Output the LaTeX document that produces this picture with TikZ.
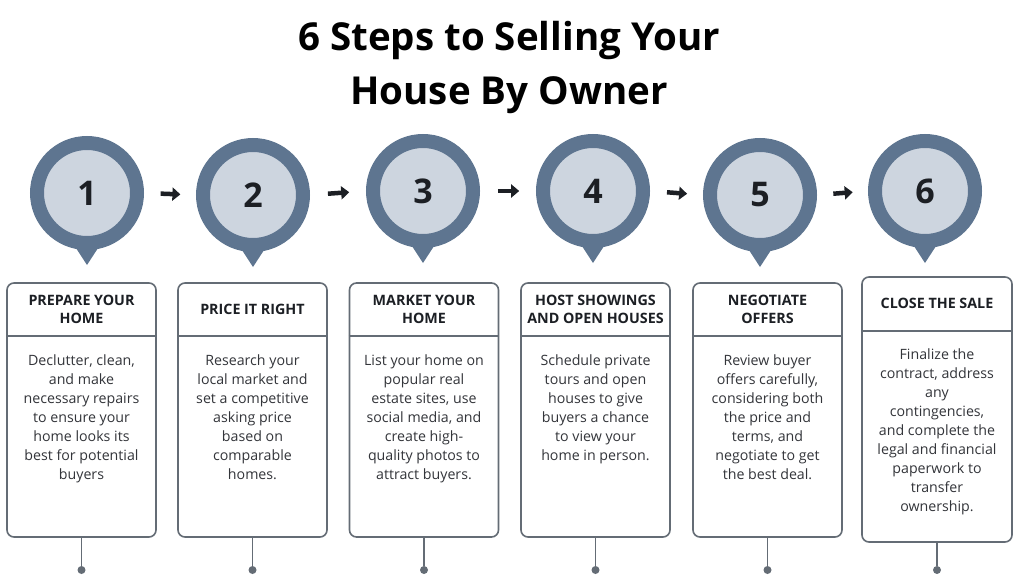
\documentclass[tikz,border=0pt]{standalone}
\usepackage{fontspec}
\setmainfont{Open Sans}
\usepackage{tikz}
\usetikzlibrary{positioning,arrows.meta,calc}
\usepackage{xcolor}
\definecolor{slate}{HTML}{5E7590}
\definecolor{mist}{HTML}{CDD5DF}
\definecolor{frame}{HTML}{646C75}
\definecolor{ink}{HTML}{1C1F24}

\begin{document}
\begin{tikzpicture}[x=1pt, y=-1pt,
    stepCircle/.style={circle, draw=slate, fill=mist, line width=14pt, minimum size=100pt, inner sep=0pt, font=\fontsize{34}{34}\selectfont\bfseries, text=ink},
    stepBox/.style={rectangle, rounded corners=7pt, draw=frame, line width=1.6pt, fill=white, minimum width=149pt, minimum height=254pt},
    headText/.style={align=center, inner sep=0pt, font=\fontsize{14.3}{18}\selectfont\bfseries, text=ink},
    bodyText/.style={align=center, inner sep=0pt, anchor=north, font=\fontsize{14.2}{19}\selectfont, text=ink!90},
    stemDot/.style={circle, fill=frame, inner sep=0pt, minimum size=8pt},
    arrowStep/.style={-{Triangle[length=8pt,width=13pt]}, line width=4.5pt, draw=ink}
]
    \useasboundingbox (0,0) rectangle (1018,583);

    % Titolo
    \node[align=center, font=\fontsize{38.5}{54}\selectfont\bfseries, text=black] (title) at (509,67) {6 Steps to Selling Your\\House By Owner};

    % Cerchi numerati
    \node[stepCircle] (c1) at (87,193) {1};
    \node[stepCircle] (c2) at (253,195) {2};
    \node[stepCircle] (c3) at (423,191) {3};
    \node[stepCircle] (c4) at (593,191) {4};
    \node[stepCircle] (c5) at (760,195) {5};
    \node[stepCircle] (c6) at (925,191) {6};

    \foreach \c in {c1,c2,c3,c4,c5,c6}
        \fill[slate] ([shift={(-13pt,5pt)}]\c.south) -- ([yshift=-15pt]\c.south) -- ([shift={(13pt,5pt)}]\c.south) -- cycle;

    \draw[arrowStep] ($(c1.east)!0.32!(c2.west)$) -- ($(c1.east)!0.7!(c2.west)$);
    \draw[arrowStep] ($(c2.east)!0.32!(c3.west)$) -- ($(c2.east)!0.7!(c3.west)$);
    \draw[arrowStep] ($(c3.east)!0.32!(c4.west)$) -- ($(c3.east)!0.7!(c4.west)$);
    \draw[arrowStep] ($(c4.east)!0.32!(c5.west)$) -- ($(c4.east)!0.7!(c5.west)$);
    \draw[arrowStep] ($(c5.east)!0.32!(c6.west)$) -- ($(c5.east)!0.7!(c6.west)$);

    % Riquadri
    \node[stepBox] (box1) at (81.5,410) {};
    \node[stepBox] (box2) at (252.5,410) {};
    \node[stepBox] (box3) at (424,410) {};
    \node[stepBox] (box4) at (595.5,410) {};
    \node[stepBox] (box5) at (767.5,410) {};
    \node[stepBox, minimum width=150pt, minimum height=265pt] (box6) at (937,409.5) {};

    \foreach \b in {box1,box2,box3,box4,box5}
        \draw[frame, line width=1.6pt] ([yshift=-54pt]\b.north west) -- ([yshift=-54pt]\b.north east);
    \draw[frame, line width=1.6pt] ([yshift=-55pt]box6.north west) -- ([yshift=-55pt]box6.north east);

    \node[headText] (head1) at ([yshift=-27pt]box1.north) {PREPARE YOUR\\HOME};
    \node[headText] (head2) at ([yshift=-27pt]box2.north) {PRICE IT RIGHT};
    \node[headText] (head3) at ([yshift=-27pt]box3.north) {MARKET YOUR\\HOME};
    \node[headText] (head4) at ([yshift=-27pt]box4.north) {HOST SHOWINGS\\AND OPEN HOUSES};
    \node[headText] (head5) at ([yshift=-27pt]box5.north) {NEGOTIATE\\OFFERS};
    \node[headText] (head6) at ([yshift=-27pt]box6.north) {CLOSE THE SALE};

    \node[bodyText] (body1) at ([yshift=-72pt]box1.north) {Declutter, clean,\\and make\\necessary repairs\\to ensure your\\home looks its\\best for potential\\buyers};
    \node[bodyText] (body2) at ([yshift=-72pt]box2.north) {Research your\\local market and\\set a competitive\\asking price\\based on\\comparable\\homes.};
    \node[bodyText] (body3) at ([yshift=-72pt]box3.north) {List your home on\\popular real\\estate sites, use\\social media, and\\create high-\\quality photos to\\attract buyers.};
    \node[bodyText] (body4) at ([yshift=-72pt]box4.north) {Schedule private\\tours and open\\houses to give\\buyers a chance\\to view your\\home in person.};
    \node[bodyText] (body5) at ([yshift=-72pt]box5.north) {Review buyer\\offers carefully,\\considering both\\the price and\\terms, and\\negotiate to get\\the best deal.};
    \node[bodyText] (body6) at ([yshift=-72pt]box6.north) {Finalize the\\contract, address\\any\\contingencies,\\and complete the\\legal and financial\\paperwork to\\transfer\\ownership.};

    % Gambi con punto
    \node[stemDot] (dot1) at (81.5,570) {};
    \node[stemDot] (dot2) at (252.5,570) {};
    \node[stemDot] (dot3) at (424,570) {};
    \node[stemDot] (dot4) at (595.5,570) {};
    \node[stemDot] (dot5) at (767.5,570) {};
    \node[stemDot] (dot6) at (937,570) {};

    \draw[frame, line width=1.8pt] (box1.south) -- (dot1);
    \draw[frame, line width=1.8pt] (box2.south) -- (dot2);
    \draw[frame, line width=1.8pt] (box3.south) -- (dot3);
    \draw[frame, line width=1.8pt] (box4.south) -- (dot4);
    \draw[frame, line width=1.8pt] (box5.south) -- (dot5);
    \draw[frame, line width=1.8pt] (box6.south) -- (dot6);
\end{tikzpicture}
\end{document}
